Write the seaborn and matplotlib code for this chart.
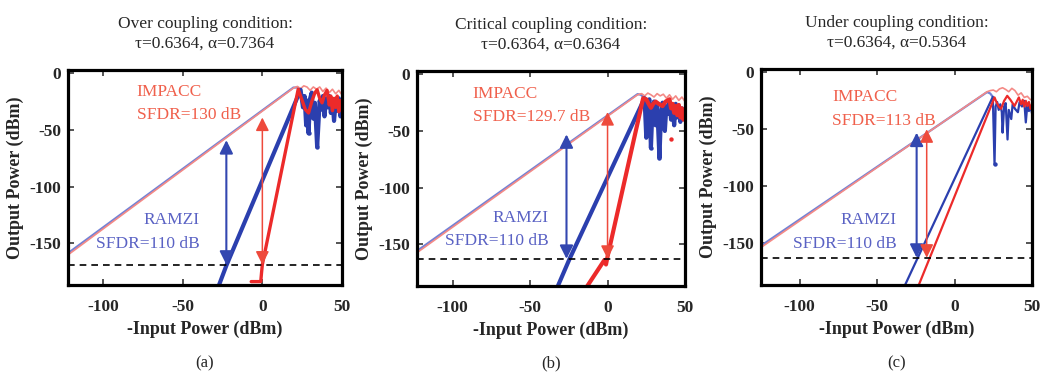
import matplotlib
matplotlib.use("Agg")
import matplotlib.pyplot as plt
import seaborn as sns

sns.set_theme(style="ticks")
plt.rcParams["font.family"] = ["Liberation Serif", "DejaVu Serif"]
plt.rcParams["axes.unicode_minus"] = False
plt.rcParams["mathtext.default"] = "regular"

# ---------------- data ----------------
titles = [
    "Over coupling condition:\nτ=0.6364, α=0.7364",
    "Critical coupling condition:\nτ=0.6364, α=0.6364",
    "Under coupling condition:\nτ=0.6364, α=0.5364",
]
panel_tags = ["(a)", "(b)", "(c)"]
x_ticks = [-100, -50, 0, 50]
y_ticks = [0, -50, -100, -150]
x_limits = [(-122, 50), (-123, 50), (-125, 50)]

noise_floor = [-169, -163, -163]
sfdr_impacc = [130, 129.7, 113]
sfdr_ramzi = [110, 110, 110]
arrow_x_impacc = [0, 0, -18]
arrow_x_ramzi = [-22.6, -26.5, -24.5]

# fundamental output (thin traces)
fund_blue_x = [
    [-125, 19.5, 22, 24],
    [-125, 19.4, 21.5, 23.9],
    [-125, 21, 23, 24.7],
]
fund_blue_y = [
    [-162, -12.5, -12.5, -14.5],
    [-158, -17.4, -18, -21],
    [-152.5, -17.3, -18.5, -21.5],
]
fund_red_x = [
    [-125, 19.5, 22, 24, 26, 28, 30, 32, 34, 36, 38, 40, 42, 44, 46, 48, 50],
    [-125, 19.4, 22, 24, 26, 28, 30, 32, 34, 36, 38, 40, 42, 44, 46, 48, 50],
    [-125, 21, 23, 25, 27, 29, 31, 33, 35, 37, 39, 41, 43, 45, 47, 49],
]
fund_red_y = [
    [-163.5, -13, -11.5, -13.5, -11, -12, -15, -12, -14, -12, -16, -13, -17, -14, -18, -15, -19],
    [-159.5, -18, -17, -19, -16.5, -18, -20, -17, -19, -17.5, -21, -18, -22, -19, -23, -20, -24],
    [-154, -17, -16, -15.5, -17, -14.5, -13.5, -15, -17, -14, -16, -20, -18, -22, -21, -24],
]

# third-order intermodulation output, RAMZI (blue) and IMPACC (red)
imd_blue_x = [
    [-28, -22.5, 24, 25.5, 26.5, 27.5, 28.5, 29, 30, 31, 32, 33, 34.4, 35, 36, 37, 38,
     39, 40, 41, 42, 43, 44, 45, 46, 47, 48, 49, 50],
    [-33, -24.5, 23.9, 25, 26, 27, 28, 29, 30, 31, 32, 33.5, 34.5, 35.5, 37, 38, 39,
     40, 41, 42, 43, 44, 45, 46, 47, 48, 49, 50],
    [-33, 24.7, 25.8, 26.5, 27.5, 28.5, 29.5, 30.5, 31, 32, 33, 34.2, 35, 36.6, 37.5,
     39, 40.9, 42, 43.5, 45, 46, 47, 48, 49, 50],
]
imd_blue_y = [
    [-190, -169.5, -14.5, -30, -20, -46, -24, -53, -22, -17, -40, -26, -65, -50, -24, -32, -20,
     -38, -22, -30, -20, -35, -24, -42, -26, -33, -22, -38, -28],
    [-190, -163, -21, -56, -28, -22, -65, -30, -24, -45, -26, -74, -35, -25, -50, -28, -35,
     -24, -40, -27, -45, -26, -38, -28, -42, -30, -36, -32],
    [-190, -21.5, -81, -30, -26, -33, -28, -35, -53, -30, -27, -59, -33, -41, -28,
     -32, -35, -26, -30, -25, -44, -28, -34, -30, -36],
]
imd_red_x = [
    [-7, -1, -0.5, 0, 22.5, 25, 27, 29, 31, 33, 34.4, 36, 37.5, 39, 40.6, 42, 43, 44, 45,
     46, 47, 48, 49, 50],
    [-14.5, -2, -1, 0, 23, 25, 26.5, 28, 29.5, 31, 33, 35.5, 37.5, 40, 41, 42, 43, 44, 45,
     46, 47, 48, 49, 50],
    [-24, 25.8, 27, 28.5, 30, 32, 34, 36, 38.7, 40, 41.5, 43, 44, 45, 46, 47, 48, 49, 50],
]
imd_red_y = [
    [-184, -184, -176, -169, -14, -24, -32, -35, -25, -17, -14.5, -22, -26, -19, -15, -28, -20,
     -33, -22, -30, -20, -34, -24, -30],
    [-190, -164, -168, -161, -21, -22, -26, -29.5, -26, -24, -26, -28, -24, -22, -30, -26, -34,
     -28, -36, -27, -38, -30, -40, -32],
    [-190, -22, -26, -30, -32, -25, -20.6, -24, -29.5, -26, -22, -28, -24, -30, -25, -29.5,
     -26, -32, -28],
]
imd_width = [3.0, 3.0, 1.6]
imd_red_width = [2.4, 3.0, 1.6]

# dots at the deep ripple minima
dot_blue_x = [[29, 34.4], [28, 33.5], [25.8]]
dot_blue_y = [[-53, -65], [-65, -74], [-81]]
dot_red_x = [[], [41], []]
dot_red_y = [[], [-57], []]

# annotation text anchors (data coordinates)
impacc_text_xy = [(-79, -16), (-87, -17), (-79, -22)]
ramzi_text_xy = [(-39.5, -130), (-38, -127), (-37.5, -130)]

# ---------------- styling ----------------
c_fund_blue = "#7282d6"
c_fund_red = "#f48a86"
c_blue = "#2b3fae"
c_red = "#ec2a2a"
c_txt_red = "#f0604c"
c_txt_blue = "#5a62c4"
c_arrow_blue = "#3347b0"
c_arrow_red = "#ee4a3c"

W, H = 1053, 377
fig = plt.figure(figsize=(W / 100, H / 100), dpi=100)
boxes = [(68, 70, 342, 285), (417, 71, 685, 286), (761, 69, 1032, 285)]

for i in range(3):
    l, t, r, b = boxes[i]
    ax = fig.add_axes([l / W, 1 - b / H, (r - l) / W, (b - t) / H])
    ax.set_facecolor("white")

    sns.lineplot(x=fund_blue_x[i], y=fund_blue_y[i], ax=ax, color=c_fund_blue, lw=1.6,
                 sort=False, estimator=None)
    sns.lineplot(x=fund_red_x[i], y=fund_red_y[i], ax=ax, color=c_fund_red, lw=1.2,
                 sort=False, estimator=None)
    sns.lineplot(x=imd_blue_x[i], y=imd_blue_y[i], ax=ax, color=c_blue, lw=imd_width[i],
                 sort=False, estimator=None)
    sns.lineplot(x=imd_red_x[i], y=imd_red_y[i], ax=ax, color=c_red, lw=imd_red_width[i],
                 sort=False, estimator=None)
    if dot_blue_x[i]:
        sns.scatterplot(x=dot_blue_x[i], y=dot_blue_y[i], ax=ax, color=c_blue, s=10, linewidth=0)
    if dot_red_x[i]:
        sns.scatterplot(x=dot_red_x[i], y=dot_red_y[i], ax=ax, color=c_red, s=10, linewidth=0)

    ax.axhline(noise_floor[i], color="black", lw=1.2, ls=(0, (4, 3)))

    for ax_x, sfdr, col, lw in [(arrow_x_ramzi[i], sfdr_ramzi[i], c_arrow_blue, 1.5),
                                (arrow_x_impacc[i], sfdr_impacc[i], c_arrow_red, 1.1)]:
        ax.annotate("", xy=(ax_x, noise_floor[i] + sfdr), xytext=(ax_x, noise_floor[i]),
                    arrowprops=dict(arrowstyle="<|-|>,head_length=0.5,head_width=0.25",
                                    color=col, lw=lw, mutation_scale=16,
                                    shrinkA=0, shrinkB=0))

    ix, iy = impacc_text_xy[i]
    ax.text(ix, iy, "IMPACC", color=c_txt_red, fontsize=12.5, ha="left", va="center")
    ax.text(ix, iy - 21, f"SFDR={sfdr_impacc[i]:g} dB", color=c_txt_red, fontsize=12.5,
            ha="left", va="center")
    rx, ry = ramzi_text_xy[i]
    ax.text(rx, ry, "RAMZI", color=c_txt_blue, fontsize=12.5, ha="right", va="center")
    ax.text(rx, ry - 20.5, f"SFDR={sfdr_ramzi[i]:g} dB", color=c_txt_blue, fontsize=12.5,
            ha="right", va="center")

    ax.set_xlim(*x_limits[i])
    ax.set_ylim(-187, 3)
    ax.set_xticks(x_ticks)
    ax.set_yticks(y_ticks)
    ax.set_xticklabels([str(v) for v in x_ticks])
    ax.set_yticklabels([str(v) for v in y_ticks])
    ax.tick_params(direction="in", length=4, width=1.1, top=True, right=True,
                   labelsize=12.5, pad=5)
    ax.tick_params(axis="x", pad=10)
    for lab in ax.get_xticklabels() + ax.get_yticklabels():
        lab.set_fontweight("bold")
    for sp in ax.spines.values():
        sp.set_linewidth(2.3)
        sp.set_color("black")

    ax.set_xlabel("-Input Power (dBm)", fontsize=13, fontweight="bold", labelpad=4)
    ax.set_ylabel("Output Power (dBm)", fontsize=13, fontweight="bold", labelpad=4)
    ax.set_title(titles[i], fontsize=12.5, linespacing=1.35, pad=16)

    fig.text((l + r) / 2 / W, 1 - 363 / H, panel_tags[i], fontsize=12, ha="center", va="center")

fig.savefig("out.png", dpi=100, facecolor="white")
